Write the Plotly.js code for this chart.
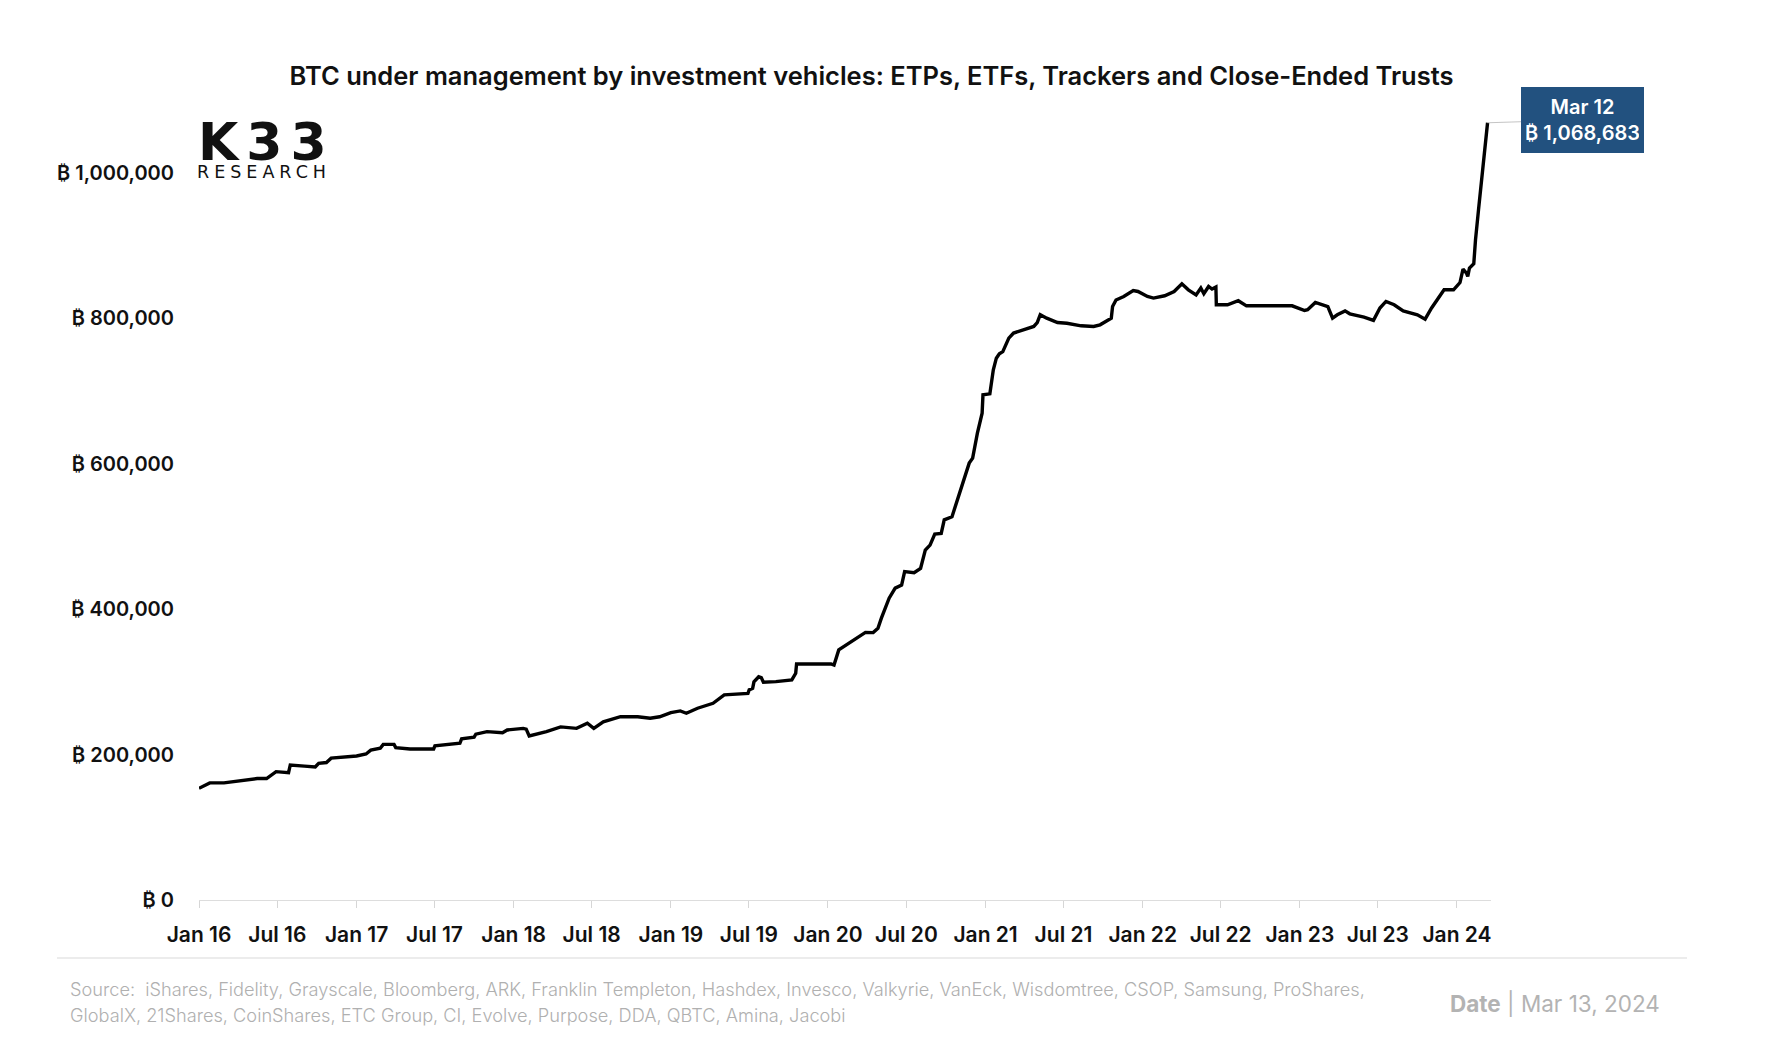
<!DOCTYPE html>
<html>
<head>
<meta charset="utf-8">
<script src="https://cdn.plot.ly/plotly-3.0.1.min.js"></script>
<style>
  html, body { margin: 0; padding: 0; background: #ffffff; }
  #chart { width: 1770px; height: 1057px; }
</style>
</head>
<body>
<div id="chart"></div>
<script>
// ---------------- data ----------------
const dates = [
  '2016-01-01','2016-01-15','2016-01-26','2016-02-28','2016-04-05','2016-05-15','2016-06-06','2016-06-17',
  '2016-06-28','2016-07-27','2016-07-31','2016-09-02','2016-09-27','2016-10-05','2016-10-23','2016-11-03',
  '2016-12-09','2017-01-01','2017-01-23','2017-02-03','2017-02-25','2017-03-04','2017-03-29','2017-04-02',
  '2017-05-05','2017-06-07','2017-06-29','2017-07-02','2017-07-31','2017-08-29','2017-09-02','2017-10-01',
  '2017-10-05','2017-10-31','2017-12-06','2017-12-17','2018-01-23','2018-01-30','2018-02-06','2018-02-17',
  '2018-03-18','2018-04-20','2018-05-27','2018-06-21','2018-07-06','2018-07-28','2018-09-06','2018-10-16',
  '2018-11-14','2018-12-06','2019-01-01','2019-01-23','2019-02-06','2019-03-04','2019-04-09','2019-05-05',
  '2019-06-03','2019-06-29','2019-07-02','2019-07-10','2019-07-13','2019-07-24','2019-07-30','2019-08-04',
  '2019-09-02','2019-10-09','2019-10-18','2019-10-20','2020-01-08','2020-01-15','2020-01-26','2020-02-06',
  '2020-03-10','2020-03-28','2020-04-15','2020-04-26','2020-05-04','2020-05-22','2020-06-05','2020-06-20',
  '2020-06-27','2020-07-19','2020-08-03','2020-08-14','2020-08-25','2020-09-05','2020-09-20','2020-09-27',
  '2020-10-15','2020-10-23','2020-11-06','2020-11-24','2020-12-02','2020-12-13','2020-12-24','2020-12-26',
  '2021-01-11','2021-01-15','2021-01-19','2021-01-26','2021-02-02','2021-02-10','2021-02-24','2021-03-07',
  '2021-03-29','2021-04-23','2021-05-01','2021-05-08','2021-05-23','2021-06-17','2021-07-09','2021-08-11',
  '2021-09-09','2021-09-24','2021-10-20','2021-10-23','2021-10-31','2021-11-18','2021-12-10','2021-12-21',
  '2022-01-12','2022-01-26','2022-02-21','2022-03-15','2022-04-02','2022-04-17','2022-05-05','2022-05-16',
  '2022-05-23','2022-06-03','2022-06-11','2022-06-20','2022-06-21','2022-07-17','2022-08-11','2022-08-30',
  '2022-09-28','2022-10-24','2022-12-14','2023-01-12','2023-01-19','2023-02-06','2023-03-07','2023-03-18',
  '2023-03-29','2023-04-16','2023-04-27','2023-05-30','2023-06-21','2023-07-06','2023-07-20','2023-08-08',
  '2023-08-29','2023-10-01','2023-10-19','2023-11-03','2023-11-18','2023-12-02','2023-12-24','2024-01-08',
  '2024-01-15','2024-01-23','2024-01-26','2024-01-30','2024-02-09','2024-02-13','2024-02-20','2024-02-28',
  '2024-03-06','2024-03-12'
];
const btcHeld = [
  153600,158000,161000,161000,164000,167000,167000,172000,
  176500,175000,185700,184000,183000,188000,189000,195000,
  197000,198000,200800,206000,208600,214000,214000,209500,
  207700,207000,207700,212000,214000,215500,221500,224000,
  228000,231500,230000,233800,236000,235000,225600,227000,
  231500,238000,236000,243000,236000,245000,252000,252000,
  250000,252000,257600,260000,256800,263700,270500,282000,
  283000,284000,289000,291000,300000,307000,305800,299400,
  300300,302600,311800,324600,324600,323000,343900,348400,
  362000,368000,367700,373700,387500,415000,428800,433000,
  451600,450000,456000,481000,488000,503000,504000,522700,
  527000,541000,568500,600700,607600,641900,669400,694600,
  696000,712000,729000,745000,751000,754000,772600,779500,
  784000,788600,794000,804700,800000,794000,793000,789500,
  788600,790900,800000,816000,825000,829800,838000,836700,
  829800,827600,830800,836700,847300,839000,832000,841400,
  833600,843600,840000,842800,818400,818400,824000,817000,
  817000,817000,817000,810600,811600,821600,816000,800000,
  804700,810000,806000,801500,797000,814000,823000,818400,
  810000,804700,798700,814000,827600,839000,839000,849000,
  867500,862000,857600,869000,874800,907800,949000,992700,
  1031600,1068683
];
const xTickVals = ['2016-01-01','2016-07-01','2017-01-01','2017-07-01','2018-01-01','2018-07-01',
  '2019-01-01','2019-07-01','2020-01-01','2020-07-01','2021-01-01','2021-07-01','2022-01-01',
  '2022-07-01','2023-01-01','2023-07-01','2024-01-01'];
const xTickLabels = ['Jan 16','Jul 16','Jan 17','Jul 17','Jan 18','Jul 18','Jan 19','Jul 19','Jan 20',
  'Jul 20','Jan 21','Jul 21','Jan 22','Jul 22','Jan 23','Jul 23','Jan 24'];
const yTickVals = [0, 200000, 400000, 600000, 800000, 1000000];
const yTickLabels = ['₿ 0','₿ 200,000','₿ 400,000','₿ 600,000','₿ 800,000','₿ 1,000,000'];
const lastLabel = 'Mar 12';
const titleText = 'BTC under management by investment vehicles: ETPs, ETFs, Trackers and Close-Ended Trusts';
const sourceLine1 = 'Source:\u00a0 iShares, Fidelity, Grayscale, Bloomberg, ARK, Franklin Templeton, Hashdex, Invesco, Valkyrie, VanEck, Wisdomtree, CSOP, Samsung, ProShares,';
const sourceLine2 = 'GlobalX, 21Shares, CoinShares, ETC Group, CI, Evolve, Purpose, DDA, QBTC, Amina, Jacobi';
const dateText = '<b>Date</b> | Mar 13, 2024';

// ---------------- layout helpers ----------------
const W = 1770, H = 1057;
const M = { l: 199, r: 279, t: 100, b: 157 };
const PW = W - M.l - M.r, PH = H - M.t - M.b;
const px2x = px => (px - M.l) / PW;
const py2y = py => (M.t + PH - py) / PH;

const FONT = 'Inter, "Open Sans", "DejaVu Sans", sans-serif';
const lastIdx = dates.length - 1;
const fmt = v => v.toLocaleString('en-US');

const trace = {
  type: 'scatter', mode: 'lines',
  x: dates, y: btcHeld,
  line: { color: '#000000', width: 3.4 },
  hoverinfo: 'x+y'
};

const layout = {
  width: W, height: H,
  margin: M,
  paper_bgcolor: '#ffffff', plot_bgcolor: '#ffffff',
  showlegend: false,
  font: { family: FONT, color: '#111111' },
  title: {
    text: titleText,
    x: 871.5 / W, xref: 'container', xanchor: 'center',
    y: 1 - 76 / H, yref: 'container', yanchor: 'middle',
    font: { family: FONT, size: 25.5, weight: 600, color: '#111111' }
  },
  xaxis: {
    type: 'date',
    range: ['2016-01-01', '2024-03-20'],
    tickmode: 'array', tickvals: xTickVals, ticktext: xTickLabels,
    ticks: 'outside', ticklen: 7, tickwidth: 1, tickcolor: '#d6d6d6',
    ticklabelstandoff: 9,
    showline: true, linecolor: '#dddddd', linewidth: 1,
    showgrid: false, zeroline: false,
    tickfont: { family: FONT, size: 21, weight: 600, color: '#111111' },
    fixedrange: true
  },
  yaxis: {
    range: [0, 1100000],
    tickmode: 'array', tickvals: yTickVals, ticktext: yTickLabels,
    ticks: '', ticklabelstandoff: 24,
    showline: false, showgrid: false, zeroline: false,
    tickfont: { family: FONT, size: 20, weight: 600, color: '#111111' },
    fixedrange: true
  },
  shapes: [
    { type: 'line', xref: 'paper', yref: 'paper',
      x0: px2x(57), x1: px2x(1687), y0: py2y(958), y1: py2y(958),
      line: { color: '#d9d9d9', width: 1 } }
  ],
  annotations: [
    // end-value label
    { x: dates[lastIdx], y: btcHeld[lastIdx], xref: 'x', yref: 'y',
      text: lastLabel + '<br>₿ ' + fmt(btcHeld[lastIdx]),
      showarrow: true, arrowhead: 0, arrowwidth: 0.8, arrowcolor: '#b5b5b5', standoff: 0,
      ax: 95, ay: -3,
      bgcolor: '#22517f', borderpad: 5, borderwidth: 0,
      width: 113, height: 56,
      font: { family: FONT, size: 20, weight: 600, color: '#ffffff' },
      align: 'center' },
    // logo
    { xref: 'paper', yref: 'paper', x: px2x(196), y: py2y(142), xanchor: 'left', yanchor: 'middle',
      text: '<span style="letter-spacing:8px">K33</span>', showarrow: false,
      font: { family: '"DejaVu Sans", sans-serif', size: 52, weight: 700, color: '#111111' } },
    { xref: 'paper', yref: 'paper', x: px2x(195), y: py2y(172.5), xanchor: 'left', yanchor: 'middle',
      text: '<span style="letter-spacing:5px">RESEARCH</span>', showarrow: false,
      font: { family: '"DejaVu Sans", sans-serif', size: 17.5, weight: 400, color: '#111111' } },
    // footer
    { xref: 'paper', yref: 'paper', x: px2x(68), y: py2y(989), xanchor: 'left', yanchor: 'middle',
      text: sourceLine1, showarrow: false, align: 'left',
      font: { family: FONT, size: 18.2, weight: 300, color: '#b0b0b0' } },
    { xref: 'paper', yref: 'paper', x: px2x(68), y: py2y(1015), xanchor: 'left', yanchor: 'middle',
      text: sourceLine2, showarrow: false, align: 'left',
      font: { family: FONT, size: 18.2, weight: 300, color: '#b0b0b0' } },
    { xref: 'paper', yref: 'paper', x: px2x(1662), y: py2y(1004), xanchor: 'right', yanchor: 'middle',
      text: dateText, showarrow: false,
      font: { family: FONT, size: 22.5, weight: 400, color: '#b3b3b3' } }
  ]
};

Plotly.newPlot('chart', [trace], layout, { displayModeBar: false, responsive: false });
</script>
</body>
</html>
